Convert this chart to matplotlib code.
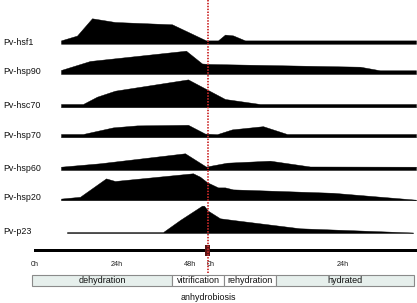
import matplotlib
matplotlib.use("Agg")
import matplotlib.pyplot as plt
from matplotlib.patches import Rectangle

plt.rcParams['font.family'] = ['Liberation Sans', 'DejaVu Sans']

# ---- data (x = horizontal position along the timeline, h = expression height) ----
genes = ["Pv-hsf1", "Pv-hsp90", "Pv-hsc70", "Pv-hsp70", "Pv-hsp60", "Pv-hsp20", "Pv-p23"]
row_base = [43.8, 74.0, 107.2, 137.2, 170.0, 200.2, 233.0]
label_y = [42.5, 71.5, 105.5, 136.0, 168.5, 197.0, 231.0]

hsf1_x = [61, 77, 92, 115, 172, 206, 218, 225, 233, 245, 416]
hsf1_h = [3.4, 8.2, 25.5, 21.8, 19.5, 3.4, 3.4, 9.2, 8.4, 3.4, 3.4]

hsp90_x = [61, 90, 186, 202, 210, 360, 380, 416]
hsp90_h = [4.0, 13.0, 23.3, 10.5, 10.0, 7.3, 3.7, 3.7]

hsc70_x = [61, 83, 97, 115, 188, 225, 260, 416]
hsc70_h = [3.2, 3.2, 10.5, 16.5, 27.8, 8.2, 3.2, 3.2]

hsp70_x = [61, 83, 113, 137, 188, 205, 217, 232, 263, 287, 416]
hsp70_h = [3.2, 3.2, 9.8, 11.8, 12.4, 3.6, 3.0, 7.8, 11.0, 3.2, 3.2]

hsp60_x = [61, 100, 185, 206, 227, 270, 310, 416]
hsp60_h = [3.3, 6.7, 16.7, 3.4, 7.3, 9.3, 3.5, 3.3]

hsp20_x = [61, 80, 106, 115, 193, 200, 207, 218, 225, 233, 333, 416]
hsp20_h = [1.6, 3.4, 21.8, 19.2, 26.9, 23.5, 18.0, 12.8, 12.8, 10.8, 7.4, 0.5]

p23_x = [67, 163, 180, 202, 204, 208, 220, 233, 300, 413]
p23_h = [0.9, 0.9, 13.0, 27.3, 27.3, 22.3, 14.7, 13.0, 4.7, 0.5]

profiles_x = [hsf1_x, hsp90_x, hsc70_x, hsp70_x, hsp60_x, hsp20_x, p23_x]
profiles_h = [hsf1_h, hsp90_h, hsc70_h, hsp70_h, hsp60_h, hsp20_h, p23_h]

tick_labels = ["0h", "24h", "48h", "0h", "24h"]
tick_x = [35, 117, 190, 211, 343]

phase_names = ["dehydration", "vitrification", "rehydration", "hydrated"]
phase_edges = [32.3, 171.7, 224.3, 275.7, 414.3]
phase_colors = ["#e6efec", "#ffffff", "#ffffff", "#e6efec"]

timeline_x = [34, 417]
anhydro_x = 207.7
marker_x = [205, 210]

# ---- figure ----
fig = plt.figure(figsize=(4.17, 3.03), dpi=100)
ax = fig.add_axes([0, 0, 1, 1])
ax.set_xlim(0, 417)
ax.set_ylim(303, 0)
ax.axis("off")

for name, base, ly, xs, hs in zip(genes, row_base, label_y, profiles_x, profiles_h):
    ax.fill_between(xs, [base] * len(xs), [base - h for h in hs],
                    color="black", linewidth=0.3, edgecolor="black")
    ax.text(3, ly, name, fontsize=6.4, va="center", ha="left", color="#111111")

# timeline bar
ax.fill_between(timeline_x, [249.3, 249.3], [252.4, 252.4], color="black", linewidth=0)
# marker
ax.fill_between(marker_x, [245, 245], [255.5, 255.5], color="#5a1414", linewidth=0, zorder=3)

# tick labels
for tx, tl in zip(tick_x, tick_labels):
    ax.text(tx, 264, tl, fontsize=5.2, ha="center", va="center", color="#222222")

# phases
for i, nm in enumerate(phase_names):
    x0, x1 = phase_edges[i], phase_edges[i + 1]
    ax.add_patch(Rectangle((x0, 275), x1 - x0, 10.8, facecolor=phase_colors[i],
                           edgecolor="#8a8a8a", linewidth=0.8))
    ax.text((x0 + x1) / 2, 280.2, nm, fontsize=6.5, ha="center", va="center", color="#111111")

ax.text(anhydro_x + 0.5, 297, "anhydrobiosis", fontsize=6.4, ha="center", va="center", color="#111111")

# red dotted line
ax.plot([anhydro_x, anhydro_x], [0, 274], color="#cc2a2a", linewidth=1.3,
        linestyle=(0, (0.8, 0.8)), zorder=4)

fig.savefig("out.png", dpi=100)
